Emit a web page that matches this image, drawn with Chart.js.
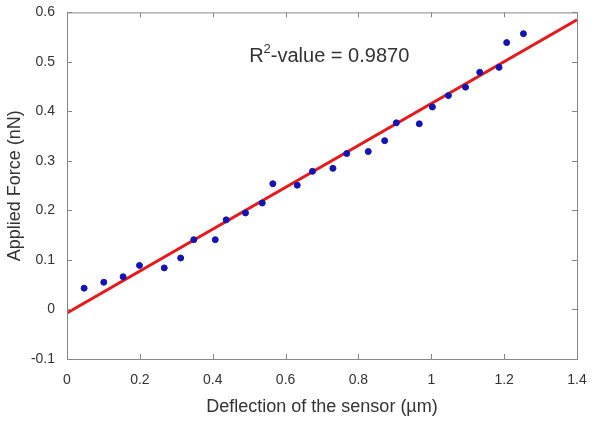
<!DOCTYPE html>
<html>
<head>
<meta charset="utf-8">
<script src="https://cdn.jsdelivr.net/npm/chart.js@4/dist/chart.umd.min.js"></script>
<style>
html,body{margin:0;padding:0;background:#fff;}
</style>
</head>
<body>
<canvas id="grafico" width="600" height="422"></canvas>
<script>
// dados
const deflexao = [0.047,0.101,0.154,0.199,0.267,0.312,0.348,0.407,0.437,0.490,0.536,0.565,0.632,0.674,0.730,0.768,0.827,0.872,0.904,0.967,1.003,1.047,1.094,1.133,1.186,1.207,1.253];
const forca    = [0.043,0.055,0.066,0.089,0.084,0.104,0.141,0.141,0.181,0.195,0.215,0.254,0.251,0.279,0.285,0.315,0.319,0.341,0.377,0.375,0.409,0.432,0.449,0.479,0.489,0.539,0.557];
const ajusteX  = [0,1.4];
const ajusteY  = [-0.007,0.585];
const xTicks   = [0,0.2,0.4,0.6,0.8,1,1.2,1.4];
const yTicks   = [-0.1,0,0.1,0.2,0.3,0.4,0.5,0.6];

const fonte = "'Liberation Sans', Arial, sans-serif";

// moldura + ticks para dentro (estilo matlab)
const moldura = {
  id:"moldura",
  afterDraw(chart){
    const {ctx, chartArea:a, scales:{x,y}} = chart;
    ctx.save();
    ctx.strokeStyle = "#888";
    ctx.lineWidth = 1;
    ctx.strokeRect(a.left+0.5, a.top+0.5, a.right-a.left, a.bottom-a.top);
    ctx.beginPath();
    xTicks.forEach(v => {
      const px = Math.round(x.getPixelForValue(v))+0.5;
      ctx.moveTo(px,a.bottom); ctx.lineTo(px,a.bottom-5);
      ctx.moveTo(px,a.top); ctx.lineTo(px,a.top+5);
    });
    yTicks.forEach(v => {
      const py = Math.round(y.getPixelForValue(v))+0.5;
      ctx.moveTo(a.left,py); ctx.lineTo(a.left+5,py);
      ctx.moveTo(a.right,py); ctx.lineTo(a.right-5,py);
    });
    ctx.stroke();
    // R2
    ctx.fillStyle = "#333";
    ctx.textBaseline = "middle";
    const tx = x.getPixelForValue(0.5), ty = y.getPixelForValue(0.51);
    ctx.font = "20px " + fonte;
    ctx.fillText("R", tx, ty);
    const wR = ctx.measureText("R").width;
    ctx.font = "13px " + fonte;
    ctx.fillText("2", tx+wR, ty-8);
    const w2 = ctx.measureText("2").width;
    ctx.font = "20px " + fonte;
    ctx.fillText("-value = 0.9870", tx+wR+w2, ty);
    ctx.restore();
  }
};

new Chart(
document.getElementById("grafico"),
{
type:"scatter",
data:{
datasets:[
{
label:"ajuste",
type:"line",
data: ajusteX.map((v,i)=>({x:v,y:ajusteY[i]})),
borderColor:"#e41a1c",
borderWidth:3,
pointRadius:0,
order:2
},
{
label:"medidas",
data: deflexao.map((v,i)=>({x:v,y:forca[i]})),
backgroundColor:"#1414b4",
borderColor:"#1414b4",
pointRadius:3,
order:1
}
]
},
options:{
responsive:false,
animation:false,
layout:{padding:{top:9,right:23,left:0,bottom:0}},
plugins:{legend:{display:false},tooltip:{enabled:false}},
scales:{
x:{
type:"linear",
min:0,max:1.4,
afterBuildTicks:s=>{ s.ticks = xTicks.map(v=>({value:v})); },
afterFit:s=>{ s.height = 63; },
grid:{display:false},
border:{display:false},
ticks:{color:"#333",font:{family:fonte,size:14},padding:5,maxRotation:0,autoSkip:false,callback:v=>String(v)},
title:{display:true,text:"Deflection of the sensor (µm)",color:"#333",font:{family:fonte,size:18},padding:{top:3}}
},
y:{
type:"linear",
min:-0.1,max:0.6,
afterBuildTicks:s=>{ s.ticks = yTicks.map(v=>({value:v})); },
afterFit:s=>{ s.width = 67; },
grid:{display:false},
border:{display:false},
ticks:{color:"#333",font:{family:fonte,size:14},padding:4,autoSkip:false,callback:v=>String(Math.round(v*10)/10)},
title:{display:true,text:"Applied Force (nN)",color:"#333",font:{family:fonte,size:18},padding:{bottom:4}}
}
}
},
plugins:[moldura]
}
);
</script>
</body>
</html>
